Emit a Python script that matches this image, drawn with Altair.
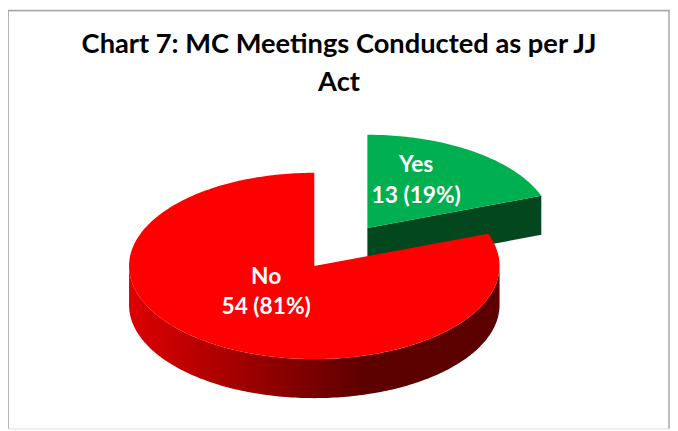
import math
import altair as alt
import pandas as pd

categories = ["Yes", "No"]
values = [13, 54]
percents = ["19%", "81%"]
title_lines = ["Chart 7: MC Meetings Conducted as per JJ", "Act"]

# Layout of the 3D pie, in units of the pie radius
RADIUS_PX = 187.5
CENTER_PX = [310, 258.5]
TILT = 93 / 185
DEPTH = 39 / 185
EXPLODE = (53 / 185, 38 / 185)
LABEL_POS = {"Yes": (0.55, 0.545), "No": (-0.26, -0.058)}

total = sum(values)
yes_sweep = 360 * values[0] / total


def rim(deg, dx=0.0, dy=0.0):
    t = math.radians(deg)
    return [math.sin(t) + dx, TILT * math.cos(t) + dy]


def arc(a, b, dx=0.0, dy=0.0):
    n = max(2, int(abs(b - a)))
    return [rim(a + (b - a) * i / n, dx, dy) for i in range(n + 1)]


def feature(name, ring):
    ring = ring + [ring[0]]
    return {"type": "Feature", "properties": {"name": name},
            "geometry": {"type": "Polygon", "coordinates": [ring]}}


ex, ey = EXPLODE
yes_top = feature("Yes top", [[ex, ey]] + arc(0, yes_sweep, ex, ey))
yes_side = feature("Yes side", [[ex, ey], rim(yes_sweep, ex, ey),
                                rim(yes_sweep, ex, ey - DEPTH), [ex, ey - DEPTH]])
no_top = feature("No top", [[0.0, 0.0]] + arc(yes_sweep, 360))
no_side = feature("No side", arc(90, 270) + arc(270, 90, 0, -DEPTH))

proj = alt.Projection(type="identity", scale=RADIUS_PX, translate=CENTER_PX, reflectY=True)


def shape(feat, fill):
    return alt.Chart(alt.Data(values=[feat], format=alt.DataFormat(type="json"))).mark_geoshape(
        fill=fill, stroke=None, strokeWidth=0).project(**proj.to_dict())


side_gradient = alt.Gradient(
    gradient="linear", x1=0, x2=1, y1=0, y2=0,
    stops=[alt.GradientStop(color="#DE0000", offset=0),
           alt.GradientStop(color="#5C0000", offset=0.64),
           alt.GradientStop(color="#5C0000", offset=1)],
)

labels = pd.DataFrame({
    "label": [f"{c}\n{v} ({p})" for c, v, p in zip(categories, values, percents)],
    "lon": [LABEL_POS[c][0] for c in categories],
    "lat": [LABEL_POS[c][1] for c in categories],
})
text = alt.Chart(labels).mark_text(
    font="Lato", fontWeight="bold", fontSize=23, color="white",
    lineBreak="\n", lineHeight=31, align="center", baseline="middle",
).encode(longitude="lon:Q", latitude="lat:Q", text="label:N").project(**proj.to_dict())

border_color = "#A6A6A6"
border_top = alt.Chart(pd.DataFrame({"a": [0]})).mark_rule(color=border_color, strokeWidth=1.5).encode(
    x=alt.value(0), x2=alt.value(670), y=alt.value(0))
border_left = alt.Chart(pd.DataFrame({"a": [0]})).mark_rule(color=border_color, strokeWidth=1.5).encode(
    x=alt.value(0), y=alt.value(0), y2=alt.value(423))
border_right = alt.Chart(pd.DataFrame({"a": [0]})).mark_rule(color=border_color, strokeWidth=1.5).encode(
    x=alt.value(669), y=alt.value(0), y2=alt.value(423))

chart = alt.layer(
    border_top, border_left, border_right,
    shape(yes_side, "#03471F"),
    shape(yes_top, "#00B050"),
    shape(no_side, side_gradient),
    shape(no_top, "#FF0000"),
    text,
).properties(
    width=670, height=423, padding=0,
    autosize=alt.AutoSizeParams(type="none"),
    title=alt.TitleParams(
        text=title_lines, font="Lato", fontWeight="bold", fontSize=27.6, color="black",
        lineHeight=38, anchor="middle", frame="group", baseline="top", orient="top",
        offset=0, dy=87.5, dx=0,
    ),
).configure_view(stroke=None).configure(background="white")

chart.save("out.html", embed_options={"renderer": "svg", "actions": False})
